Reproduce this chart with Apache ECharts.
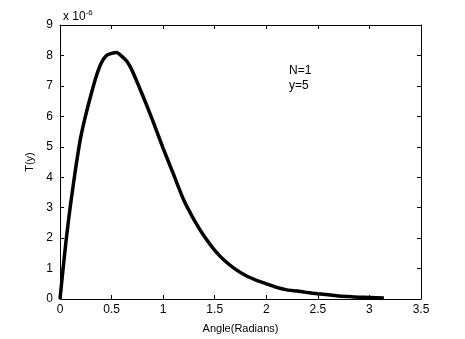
<!DOCTYPE html>
<html>
<head>
<meta charset="utf-8">
<script src="https://cdn.jsdelivr.net/npm/echarts@6/dist/echarts.min.js"></script>
<style>
  html, body { margin: 0; padding: 0; background: #fff; }
  #chart { width: 465px; height: 339px; }
</style>
</head>
<body>
<div id="chart"></div>
<script>
  // angle in radians, T(y) in units of 1e-6
  var angles = [0, 0.03, 0.06, 0.1, 0.15, 0.2, 0.25, 0.3, 0.35, 0.4, 0.45, 0.5, 0.55, 0.6, 0.65, 0.7,
    0.8, 0.9, 1.0, 1.1, 1.2, 1.3, 1.4, 1.5, 1.6, 1.7, 1.8, 1.9, 2.0, 2.1, 2.2, 2.3, 2.4, 2.5,
    2.6, 2.7, 2.8, 2.9, 3.0, 3.14];
  var tValues = [0, 1.0, 1.95, 3.05, 4.25, 5.3, 6.05, 6.7, 7.3, 7.75, 8.0, 8.07, 8.1, 7.97, 7.8, 7.5,
    6.7, 5.85, 4.95, 4.1, 3.25, 2.6, 2.05, 1.6, 1.25, 0.98, 0.77, 0.62, 0.5, 0.38, 0.3, 0.26, 0.21, 0.17,
    0.14, 0.1, 0.08, 0.06, 0.05, 0.03];
  var annotation = ['N=1', 'y=5'];

  var chart = echarts.init(document.getElementById('chart'));
  var font = 'Liberation Sans, Arial, sans-serif';

  var points = angles.map(function (a, i) { return [a, tValues[i]]; });

  function axisParts() {
    return {
      axisLine: { show: true, onZero: false, lineStyle: { color: '#000', width: 1 } },
      axisTick: { show: true, inside: true, length: 4, lineStyle: { color: '#000' } },
      splitLine: { show: false }
    };
  }

  var option = {
    animation: false,
    backgroundColor: '#fff',
    grid: { left: 60, right: 44, top: 25, bottom: 38 },
    title: {
      text: '{a|x 10}{b|-6}',
      left: 58,
      top: 4,
      textStyle: {
        rich: {
          a: { fontFamily: font, fontSize: 12, fontWeight: 'normal', color: '#000' },
          b: { fontFamily: font, fontSize: 8, fontWeight: 'normal', color: '#000', padding: [0, 0, 8, 0] }
        }
      }
    },
    xAxis: [
      Object.assign({
        type: 'value', min: 0, max: 3.5, interval: 0.5, position: 'bottom',
        name: 'Angle(Radians)', nameLocation: 'middle', nameGap: 24,
        nameTextStyle: { fontFamily: font, fontSize: 11, color: '#000' },
        axisLabel: { fontFamily: font, fontSize: 12, color: '#000', margin: 5 }
      }, axisParts()),
      Object.assign({
        type: 'value', min: 0, max: 3.5, interval: 0.5, position: 'top',
        axisLabel: { show: false }
      }, axisParts())
    ],
    yAxis: [
      Object.assign({
        type: 'value', min: 0, max: 9, interval: 1, position: 'left',
        name: 'T(y)', nameLocation: 'middle', nameGap: 20, nameRotate: 90,
        nameTextStyle: { fontFamily: font, fontSize: 11, color: '#000' },
        axisLabel: { fontFamily: font, fontSize: 12, color: '#000', margin: 7 }
      }, axisParts()),
      Object.assign({
        type: 'value', min: 0, max: 9, interval: 1, position: 'right',
        axisLabel: { show: false }
      }, axisParts())
    ],
    graphic: [
      {
        type: 'text', left: 289, top: 63,
        style: { text: annotation.join('\n'), font: '12px ' + font, fill: '#000', lineHeight: 15 }
      }
    ],
    series: [
      {
        type: 'line',
        data: points,
        xAxisIndex: 0,
        yAxisIndex: 0,
        showSymbol: false,
        smooth: 0.2,
        lineStyle: { color: '#000', width: 3.5 }
      }
    ]
  };

  chart.setOption(option);
</script>
</body>
</html>
